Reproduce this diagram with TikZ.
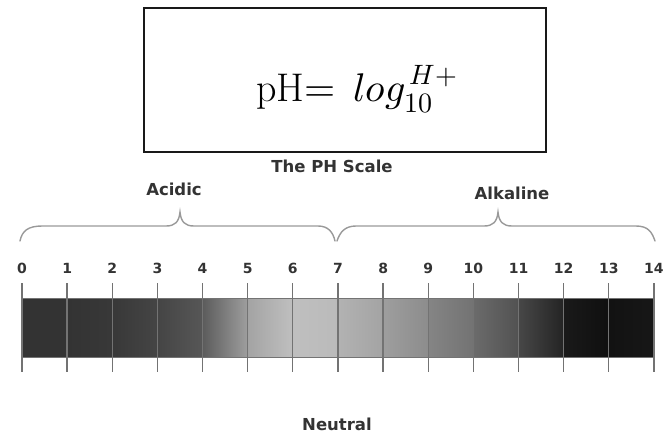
\documentclass[tikz,border=0pt]{standalone}
\usepackage{fontspec}
\usepackage{unicode-math}
\setmathfont{Latin Modern Math}
\newfontfamily\lab{DejaVu Sans}
\begin{document}
\begin{tikzpicture}[x=1pt,y=-1pt,
  lbl/.style={font=\lab\bfseries\fontsize{16.5}{18}\selectfont, text=black!80, inner sep=0pt},
  num/.style={font=\lab\bfseries\fontsize{14}{16}\selectfont, text=black!80, inner sep=0pt},
  tickline/.style={draw=black!55, line width=1.3pt},
  bracestyle/.style={draw=black!40, line width=1.4pt, line cap=round},
  eqbox/.style={draw=black!90, line width=2pt, anchor=north west, minimum width=402pt, minimum height=144pt, inner sep=0pt}]
\useasboundingbox (0,0) rectangle (670,439);
% formula box
\node[eqbox] (box) at (143,7) {};
\node[font=\fontsize{40}{44}\selectfont, anchor=base, inner sep=0pt] (eq) at (357,101) {$\mathrm{pH}{=}\;\, log^{\,H+}_{10}$};
% labels
\node[lbl] (title) at (332,166) {The PH Scale};
\node[lbl] (acid) at (174,189) {Acidic};
\node[lbl] (alk) at (512,193) {Alkaline};
\node[lbl] (neutral) at (337,424) {Neutral};
% braces
\draw[bracestyle] (20,241) .. controls (22,231) and (28,226) .. (42,226) -- (166,226)
  .. controls (175,226) and (179,222) .. (180,212)
  .. controls (181,222) and (185,226) .. (194,226) -- (318,226)
  .. controls (328,226) and (333,232) .. (335,241);
\draw[bracestyle] (337,241) .. controls (340,232) and (345,226) .. (356,226) -- (484,226)
  .. controls (493,226) and (497,222) .. (498,212)
  .. controls (499,222) and (503,226) .. (512,226) -- (636,226)
  .. controls (648,226) and (652,232) .. (655,241);
% bar segments
\foreach \i/\a/\b in {0/80/80,1/80/78,2/78/73,3/73/66,4/64/38,5/36/25,6/25/27,7/30/36,8/38/45,9/48/55,10/58/68,11/72/86,12/90/94,13/93/91}{
  \shade[left color=black!\a, right color=black!\b] ({22+45.14*\i},298) rectangle ({22+45.14*(\i+1)},357);
}
\draw[black!55, line width=0.8pt] (22,298) rectangle (654,357);
% ticks and numbers
\foreach \i in {0,...,14}{
  \draw[tickline] ({22+45.14*\i},283) -- ({22+45.14*\i},372);
  \node[num] (n\i) at ({22+45.14*\i},268) {\i};
}
\end{tikzpicture}
\end{document}
